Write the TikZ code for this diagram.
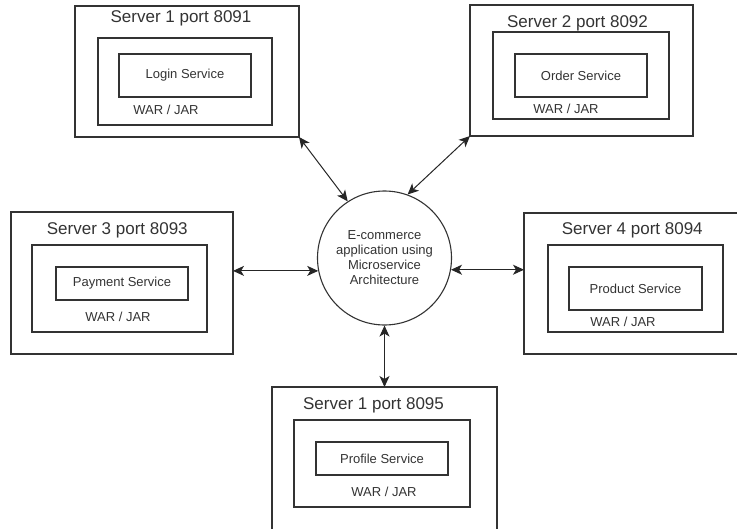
\documentclass[tikz,border=0pt]{standalone}
\usepackage{fontspec}
\setmainfont{Liberation Sans}
\usetikzlibrary{positioning,arrows.meta}

\begin{document}
\begin{tikzpicture}[x=1pt, y=-1pt,
  server/.style={rectangle,draw=black!80,line width=1.1pt,inner sep=0pt,outer sep=0pt,anchor=north west},
  svc/.style={server,font=\fontsize{13}{15}\selectfont,text=black!80},
  title/.style={inner sep=0pt,text depth=0pt,font=\fontsize{17}{20}\selectfont,text=black!80},
  jar/.style={inner sep=0pt,text height=9.4pt,text depth=0pt,font=\fontsize{13}{15}\selectfont,text=black!80},
  hub/.style={circle,draw=black!80,line width=1.1pt,minimum size=134pt,inner sep=0pt,align=center,font=\fontsize{13}{15}\selectfont,text=black!80},
  link/.style={{Stealth[length=11pt,width=10pt,inset=3pt]}-{Stealth[length=11pt,width=10pt,inset=3pt]},line width=1pt,draw=black!85},]
\useasboundingbox (0,0) rectangle (737,528);
\clip (0,0) rectangle (737,528);

\node[hub] (hub) at (384.5,258) {E-commerce\\application using\\Microservice\\Architecture};

% server 1 (login)
\node[server, minimum width=224pt, minimum height=131pt] (S1) at (75,6) {};
\node[server, minimum width=174pt, minimum height=87pt]  (S1in)  [below right=32pt and 23pt of S1.north west] {};
\node[svc, minimum width=132pt, minimum height=43pt]     (S1svc) [below right=16pt and 21pt of S1in.north west] {Login Service};
\node[title] (S1t) [above=15.5pt of S1in.north, xshift=-4pt] {Server 1 port 8091};
\node[jar]   (S1j) [below=8pt of S1svc.south, xshift=-19pt] {WAR / JAR};
%
% server 2 (order)
\node[server, minimum width=223pt, minimum height=131pt] (S2) at (470,5) {};
\node[server, minimum width=176pt, minimum height=87pt]  (S2in)  [below right=27pt and 23pt of S2.north west] {};
\node[svc, minimum width=132pt, minimum height=43pt]     (S2svc) [below right=22pt and 22pt of S2in.north west] {Order Service};
\node[title] (S2t) [above=4.6pt of S2in.north, xshift=-3.5pt] {Server 2 port 8092};
\node[jar]   (S2j) [below=7pt of S2svc.south, xshift=-15pt] {WAR / JAR};
%
% server 3 (payment)
\node[server, minimum width=222pt, minimum height=142pt] (S3) at (11,212) {};
\node[server, minimum width=175pt, minimum height=87pt]  (S3in)  [below right=33pt and 21pt of S3.north west] {};
\node[svc, minimum width=132pt, minimum height=33pt]     (S3svc) [below right=22pt and 24pt of S3in.north west] {Payment Service};
\node[title] (S3t) [above=10pt of S3in.north, xshift=-2.2pt] {Server 3 port 8093};
\node[jar]   (S3j) [below=12pt of S3svc.south, xshift=-4pt] {WAR / JAR};
%
% server 4 (product)
\node[server, minimum width=240pt, minimum height=141pt] (S4) at (524,213) {};
\node[server, minimum width=175pt, minimum height=87pt]  (S4in)  [below right=32pt and 24pt of S4.north west] {};
\node[svc, minimum width=133pt, minimum height=43pt]     (S4svc) [below right=22pt and 21pt of S4in.north west] {Product Service};
\node[title] (S4t) [above=10pt of S4in.north, xshift=-3.2pt] {Server 4 port 8094};
\node[jar]   (S4j) [below=7pt of S4svc.south, xshift=-12.5pt] {WAR / JAR};
%
% server 5 (profile)
\node[server, minimum width=225pt, minimum height=160pt] (S5) at (272,387) {};
\node[server, minimum width=176pt, minimum height=87pt]  (S5in)  [below right=33pt and 22pt of S5.north west] {};
\node[svc, minimum width=132pt, minimum height=33pt]     (S5svc) [below right=22pt and 22pt of S5in.north west] {Profile Service};
\node[title] (S5t) [above=10pt of S5in.north, xshift=-8.5pt] {Server 1 port 8095};
\node[jar]   (S5j) [below=12pt of S5svc.south, xshift=2pt] {WAR / JAR};

\draw[link] (S1.south east) -- (hub.123);
\draw[link] (S2.south west) -- (hub.70);
\draw[link] (hub.191 -| S3.east) -- (hub.191);
\draw[link] (hub.-10) -- (hub.-10 -| S4.west);
\draw[link] (hub.south) -- (hub.south |- S5.north);

\end{tikzpicture}
\end{document}
